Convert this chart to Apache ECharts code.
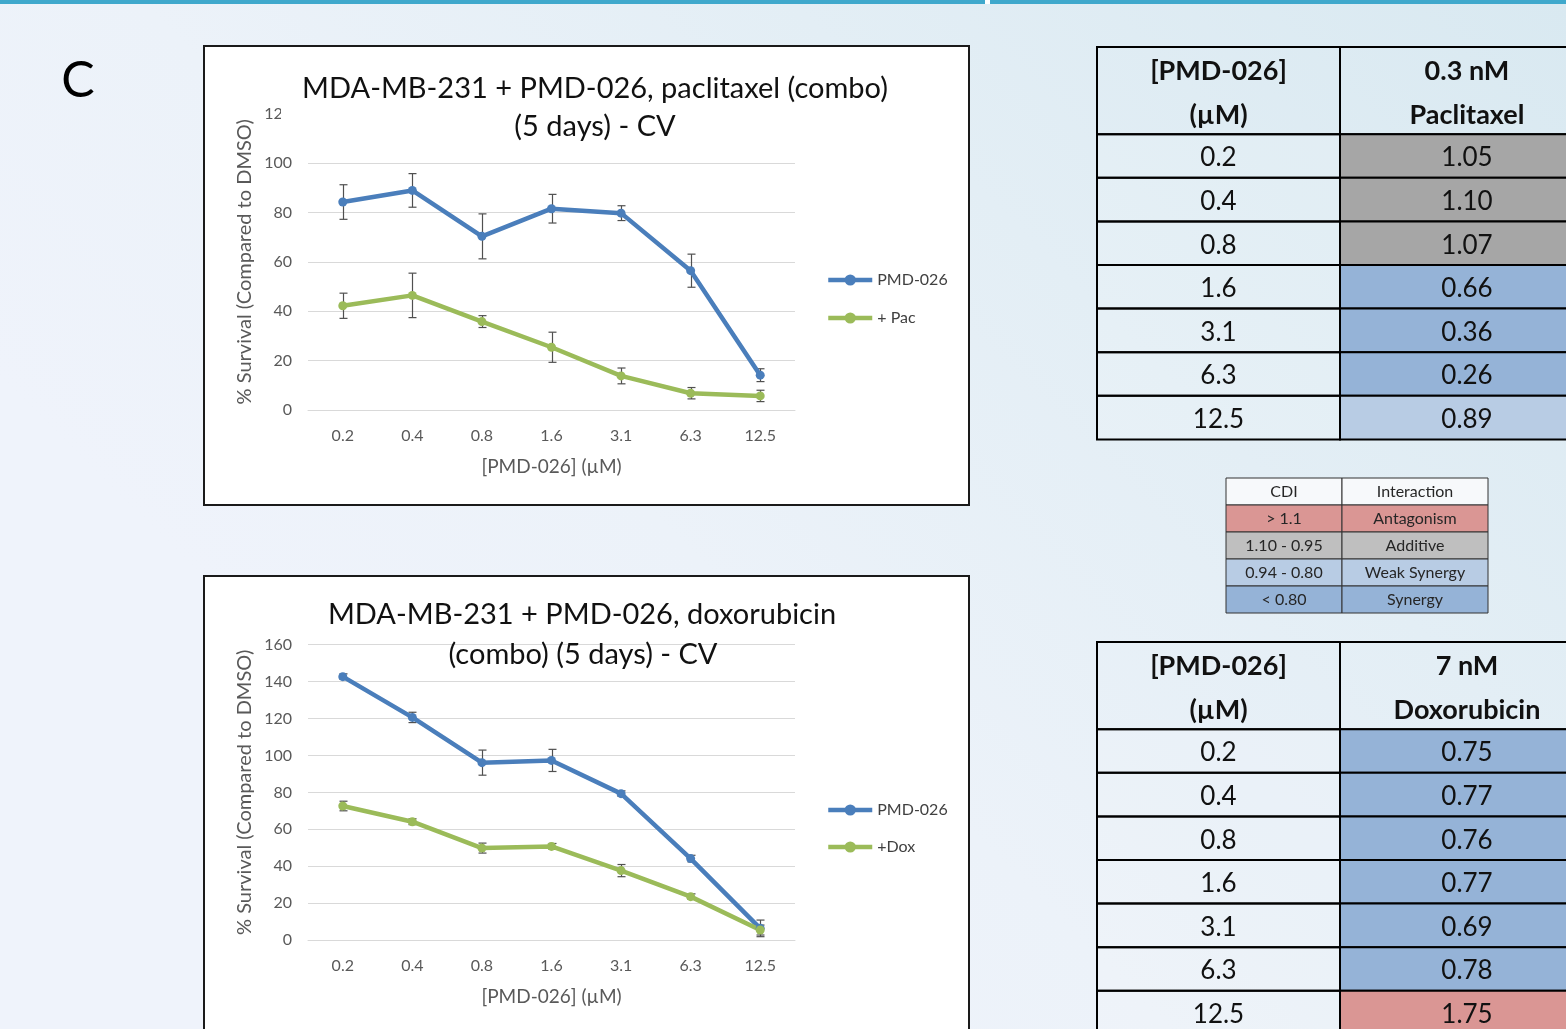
<!DOCTYPE html>
<html>
<head>
<meta charset="utf-8">
<script src="https://cdn.jsdelivr.net/npm/echarts@6/dist/echarts.min.js"></script>
<style>
html,body{margin:0;padding:0;width:1566px;height:1029px;overflow:hidden;
background:linear-gradient(225deg,#d9e9f1 0%,#e3eef5 30%,#ecf2f9 55%,#eff3fb 75%);}
#main{width:1566px;height:1029px;}
</style>
</head>
<body>
<div id="main"></div>
<script>
// ---------- data ----------
const concLabels = ['0.2','0.4','0.8','1.6','3.1','6.3','12.5'];
const yTicksPac = [0,20,40,60,80,100,120];
const yTicksDox = [0,20,40,60,80,100,120,140,160];

const pacPMD     = [84.2, 88.9, 70.3, 81.5, 79.7, 56.4, 14.1];
const pacPMDErr  = [7.0, 6.8, 9.1, 5.8, 3.0, 6.7, 2.6];
const pacCombo   = [42.2, 46.4, 35.8, 25.4, 13.8, 6.8, 5.7];
const pacComboErr= [5.1, 9.0, 2.4, 6.1, 3.2, 2.3, 2.3];

const doxPMD     = [142.7, 120.6, 96.1, 97.3, 79.3, 44.1, 6.3];
const doxPMDErr  = [1.5, 2.8, 6.8, 6.0, 1.5, 1.8, 4.5];
const doxCombo   = [72.6, 64.1, 49.8, 50.7, 37.6, 23.5, 5.4];
const doxComboErr= [2.6, 1.6, 2.7, 1.6, 3.3, 1.5, 2.7];

const pacCDI = ['1.05','1.10','1.07','0.66','0.36','0.26','0.89'];
const doxCDI = ['0.75','0.77','0.76','0.77','0.69','0.78','1.75'];
const cdiRanges = ['> 1.1','1.10 - 0.95','0.94 - 0.80','< 0.80'];
const cdiInteractions = ['Antagonism','Additive','Weak Synergy','Synergy'];

// ---------- styles ----------
const FONT = 'Lato, "Open Sans", sans-serif';
const BLUE = '#4a7ebb', GREEN = '#9bbb59';
const C_ANT = '#da9694', C_ADD = '#a6a6a6', C_ADD_LEG = '#bfbfbf', C_WEAK = '#b8cce4', C_SYN = '#95b3d7';
function cdiColor(v){ v = parseFloat(v); if (v > 1.1) return C_ANT; if (v >= 0.95) return C_ADD; if (v >= 0.80) return C_WEAK; return C_SYN; }

const chart = echarts.init(document.getElementById('main'), null, {renderer:'canvas'});

// ---------- line charts ----------
const lineGrids = [
  {left:308, top:113.6, width:487, height:296.4},
  {left:308, top:644.7, width:487, height:295.3}
];
function yAxisOf(gridIndex, ticks){
  return {type:'value', gridIndex, min:ticks[0], max:ticks[ticks.length-1], interval:ticks[1]-ticks[0],
    axisLine:{show:false}, axisTick:{show:false},
    splitLine:{lineStyle:{color:'#d9d9d9', width:1}},
    axisLabel:{color:'#595959', fontSize:16, fontFamily:FONT, margin:16},
    name:'% Survival (Compared to DMSO)', nameLocation:'middle', nameGap:53, nameRotate:90,
    nameTextStyle:{color:'#595959', fontSize:20, fontFamily:FONT}};
}
function xAxisOf(gridIndex){
  return {type:'category', gridIndex, data:concLabels, boundaryGap:true,
    axisLine:{lineStyle:{color:'#d9d9d9'}}, axisTick:{show:false},
    axisLabel:{color:'#595959', fontSize:16, fontFamily:FONT, margin:18},
    name:'[PMD-026] (µM)', nameLocation:'middle', nameGap:47,
    nameTextStyle:{color:'#595959', fontSize:19, fontFamily:FONT}};
}
function lineSeries(name, data, color, axisIdx){
  return {type:'line', name, data, xAxisIndex:axisIdx, yAxisIndex:axisIdx, symbol:'circle', symbolSize:9,
    itemStyle:{color}, lineStyle:{color, width:4.5}, z:5};
}
function errSeries(vals, errs, axisIdx){
  const d = vals.map((v,i)=>[i, v-errs[i], v+errs[i]]);
  return {type:'custom', xAxisIndex:axisIdx, yAxisIndex:axisIdx, data:d, z:4, silent:true,
    renderItem(params, api){
      const lo = api.coord([api.value(0), api.value(1)]);
      const hi = api.coord([api.value(0), api.value(2)]);
      const x = Math.round(lo[0])+0.5, cw = 4;
      const st = {stroke:'#505050', lineWidth:1.2};
      return {type:'group', children:[
        {type:'line', shape:{x1:x, y1:lo[1], x2:x, y2:hi[1]}, style:st},
        {type:'line', shape:{x1:x-cw, y1:lo[1], x2:x+cw, y2:lo[1]}, style:st},
        {type:'line', shape:{x1:x-cw, y1:hi[1], x2:x+cw, y2:hi[1]}, style:st}
      ]};
    }};
}

// ---------- tables ----------
// main tables: column edges in px units of the table's own axis
const MAIN_COL_W = [243, 254];
const MAIN_ROW_H = 43.6;
function buildMainCells(headerRight, values){
  const cells = [];
  cells.push({c:0, r0:0, r1:2, text:'[PMD-026]\n(µM)', bold:true, fill:'rgba(255,255,255,0)'});
  cells.push({c:1, r0:0, r1:2, text:headerRight, bold:true, fill:'rgba(255,255,255,0)'});
  concLabels.forEach((lab,i)=>{
    cells.push({c:0, r0:i+2, r1:i+3, text:lab, bold:false, fill:'rgba(255,255,255,0.12)'});
    cells.push({c:1, r0:i+2, r1:i+3, text:values[i], bold:false, fill:cdiColor(values[i])});
  });
  return cells;
}
function tableSeries(cells, axisIdx, xs, opts){
  return {type:'custom', xAxisIndex:axisIdx, yAxisIndex:axisIdx, silent:true, clip:false, z:3,
    data:cells.map(c=>[c.c, c.r0, c.r1]),
    renderItem(params, api){
      const cell = cells[params.dataIndex];
      const p0 = api.coord([xs[cell.c], cell.r0]);
      const p1 = api.coord([xs[cell.c+1], cell.r1]);
      const cx = (p0[0]+p1[0])/2, cy = (p0[1]+p1[1])/2 + (cell.bold ? opts.hdy : opts.dy);
      return {type:'group', children:[
        {type:'rect', shape:{x:p0[0], y:p0[1], width:p1[0]-p0[0], height:p1[1]-p0[1]},
          style:{fill:cell.fill, stroke:opts.stroke, lineWidth:opts.lw}},
        {type:'text', style:{text:cell.text, x:cx, y:cy, align:'center', verticalAlign:'middle',
          fontSize:cell.bold ? opts.hfs : opts.fs, fontWeight:cell.bold ? 'bold' : 'normal',
          fontFamily:FONT, fill:opts.color, lineHeight:opts.lh}}
      ]};
    }};
}
const pacCells = buildMainCells('0.3 nM\nPaclitaxel', pacCDI);
const doxCells = buildMainCells('7 nM\nDoxorubicin', doxCDI);
const legFills = [C_ANT, C_ADD_LEG, C_WEAK, C_SYN];
const legCells = [{c:0,r0:0,r1:1,text:'CDI',fill:'#f7f9fb'},{c:1,r0:0,r1:1,text:'Interaction',fill:'#f7f9fb'}];
cdiRanges.forEach((r,i)=>{
  legCells.push({c:0, r0:i+1, r1:i+2, text:r, fill:legFills[i]});
  legCells.push({c:1, r0:i+1, r1:i+2, text:cdiInteractions[i], fill:legFills[i]});
});

// grids must stay inside the canvas; the tables run past its right/bottom edge
const T1 = {left:1097, top:47}, T2 = {left:1097, top:642};
const CW = 1566, CH = 1029;
const tableGrids = [
  {left:T1.left, top:T1.top, width:CW-T1.left, height:9*MAIN_ROW_H},
  {left:T2.left, top:T2.top, width:CW-T2.left, height:CH-T2.top},
  {left:1226, top:478, width:262, height:135}
];
const mainXs = [0, MAIN_COL_W[0], MAIN_COL_W[0]+MAIN_COL_W[1]];
const legXs = [0, 116, 262];
const option = {
  animation:false,
  grid:[...lineGrids, ...tableGrids],
  xAxis:[xAxisOf(0), xAxisOf(1),
    {type:'value', gridIndex:2, min:0, max:CW-T1.left, show:false},
    {type:'value', gridIndex:3, min:0, max:CW-T2.left, show:false},
    {type:'value', gridIndex:4, min:0, max:262, show:false}],
  yAxis:[yAxisOf(0, yTicksPac), yAxisOf(1, yTicksDox),
    {type:'value', gridIndex:2, min:0, max:9, inverse:true, show:false},
    {type:'value', gridIndex:3, min:0, max:(CH-T2.top)/MAIN_ROW_H, inverse:true, show:false},
    {type:'value', gridIndex:4, min:0, max:5, inverse:true, show:false}],
  legend:[
    {orient:'vertical', left:826, top:272, padding:0, itemWidth:44, itemHeight:14, itemGap:22,
      data:['PMD-026','+ Pac'], lineStyle:{width:4.5}, textStyle:{color:'#404040', fontSize:16, fontFamily:FONT}, selectedMode:false},
    {orient:'vertical', left:826, top:802, padding:0, itemWidth:44, itemHeight:14, itemGap:21,
      data:['PMD-026 ','+Dox'], lineStyle:{width:4.5}, textStyle:{color:'#404040', fontSize:16, fontFamily:FONT}, selectedMode:false}
  ],
  series:[
    errSeries(pacPMD, pacPMDErr, 0), errSeries(pacCombo, pacComboErr, 0),
    lineSeries('PMD-026', pacPMD, BLUE, 0), lineSeries('+ Pac', pacCombo, GREEN, 0),
    errSeries(doxPMD, doxPMDErr, 1), errSeries(doxCombo, doxComboErr, 1),
    lineSeries('PMD-026 ', doxPMD, BLUE, 1), lineSeries('+Dox', doxCombo, GREEN, 1),
    tableSeries(pacCells, 2, mainXs, {stroke:'#000', lw:2, fs:26, hfs:27, lh:44, color:'#111', dy:2, hdy:3}),
    tableSeries(doxCells, 3, mainXs, {stroke:'#000', lw:2, fs:26, hfs:27, lh:44, color:'#111', dy:2, hdy:3}),
    tableSeries(legCells, 4, legXs, {stroke:'#333', lw:1, fs:16, hfs:16, lh:20, color:'#262626', dy:0, hdy:0})
  ],
  graphic:{elements:[
    {type:'rect', z:-5, shape:{x:0, y:0, width:1566, height:4}, style:{fill:'#3fa8cc'}},
    {type:'rect', z:-4, shape:{x:985, y:0, width:5, height:4}, style:{fill:'#ffffff'}},
    {type:'text', z:-4, style:{text:'C', x:78, y:81, align:'center', verticalAlign:'middle', fontSize:50, fontFamily:FONT, fill:'#000'}},
    {type:'rect', z:-5, shape:{x:204, y:46, width:765, height:459}, style:{fill:'#ffffff', stroke:'#1a1a1a', lineWidth:2}},
    {type:'rect', z:-5, shape:{x:204, y:576, width:765, height:470}, style:{fill:'#ffffff', stroke:'#1a1a1a', lineWidth:2}},
    {type:'rect', z:10, shape:{x:281, y:68, width:628, height:78}, style:{fill:'#ffffff'}},
    {type:'text', z:11, style:{text:'MDA-MB-231 + PMD-026, paclitaxel (combo)', x:595, y:89, align:'center', verticalAlign:'middle', fontSize:29, fontFamily:FONT, fill:'#111'}},
    {type:'text', z:11, style:{text:'(5 days) - CV', x:595, y:127, align:'center', verticalAlign:'middle', fontSize:29, fontFamily:FONT, fill:'#111'}},
    {type:'text', z:11, style:{text:'MDA-MB-231 + PMD-026, doxorubicin', x:582, y:615, align:'center', verticalAlign:'middle', fontSize:29, fontFamily:FONT, fill:'#111'}},
    {type:'text', z:11, style:{text:'(combo) (5 days) - CV', x:583, y:655, align:'center', verticalAlign:'middle', fontSize:29, fontFamily:FONT, fill:'#111'}}
  ]}
};
chart.setOption(option);
</script>
</body>
</html>
